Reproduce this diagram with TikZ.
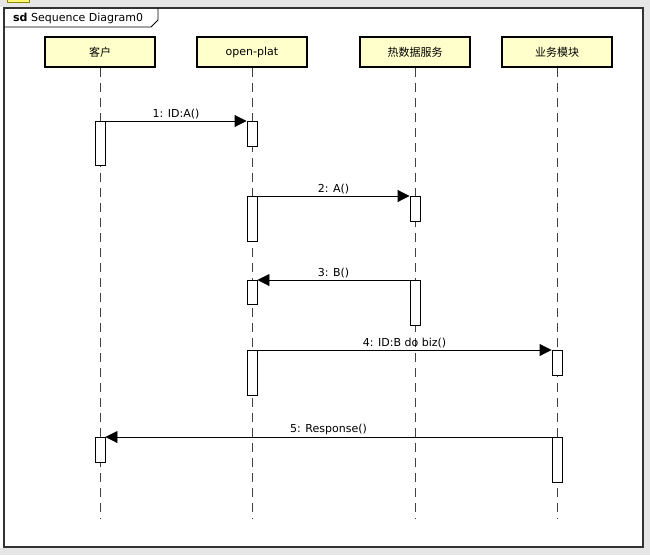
\documentclass[tikz,border=0pt]{standalone}
\usepackage{fontspec}
\setmainfont{DejaVu Sans}
\newfontfamily\cjk{Noto Sans CJK SC}
\usetikzlibrary{arrows.meta}
\definecolor{headfill}{HTML}{FFFFCC}
\definecolor{bandgray}{HTML}{E6E6E6}
\tikzset{
  head/.style={draw,line width=1.6pt,fill=headfill,minimum width=110pt,minimum height=30pt,
    inner sep=0pt,font=\fontsize{11}{13}\selectfont},
  lifeline/.style={draw=black!75,line width=0.9pt,dash pattern=on 9pt off 6pt},
  act/.style={draw,line width=0.9pt,fill=white,anchor=north,minimum width=10pt,inner sep=0pt},
  msg/.style={line width=0.9pt,-{Triangle[length=12pt,width=12pt]}},
  lbl/.style={above,inner sep=2pt,font=\fontsize{11}{13}\selectfont}
}
\begin{document}
\begin{tikzpicture}[x=1pt,y=-1pt]
  \useasboundingbox (0,0) rectangle (650,555);
  % window background
  \fill[bandgray] (0,0) rectangle (650,555);
  \fill[white] (0,7) rectangle (643,548);
  \draw[draw=olive,fill=yellow!55] (7,-1) rectangle (29,2);
  % frame
  \draw[line width=1.2pt,black!80] (4,8) rectangle (643,547);
  \draw[line width=0.8pt] (4,27) -- (151,27) -- (158,20) -- (158,8);
  \node[anchor=west,inner sep=0pt,font=\fontsize{11}{13}\selectfont] (title) at (13,18) {\textbf{sd} Sequence Diagram0};

  % lifelines
  \node[head] (client) at (100,52) {\cjk 客户};
  \node[head] (plat) at (252,52) {open-plat};
  \node[head] (hot) at (415,52) {\cjk 热数据服务};
  \node[head] (biz) at (557,52) {\cjk 业务模块};
  \coordinate (end) at (0,519);
  \foreach \n in {client,plat,hot,biz}
    \draw[lifeline] (\n.south) -- (\n.south |- end);

  % activations
  \node[act,minimum height=44pt] (client1) at (100,121) {};
  \node[act,minimum height=25pt] (client2) at (100,437) {};
  \node[act,minimum height=25pt] (plat1) at (252,121) {};
  \node[act,minimum height=45pt] (plat2) at (252,196) {};
  \node[act,minimum height=24pt] (plat3) at (252,280) {};
  \node[act,minimum height=45pt] (plat4) at (252,350) {};
  \node[act,minimum height=25pt] (hot1) at (415,196) {};
  \node[act,minimum height=45pt] (hot2) at (415,280) {};
  \node[act,minimum height=25pt] (biz1) at (557,350) {};
  \node[act,minimum height=45pt] (biz2) at (557,437) {};

  % messages
  \draw[msg] (client1.north east) -- node[lbl] (m1) {1: ID:A()} (plat1.north west);
  \draw[msg] (plat2.north east) -- node[lbl] (m2) {2: A()} (hot1.north west);
  \draw[msg] (hot2.north west) -- node[lbl] (m3) {3: B()} (plat3.north east);
  \draw[msg] (plat4.north east) -- node[lbl] (m4) {4: ID:B do biz()} (biz1.north west);
  \draw[msg] (biz2.north west) -- node[lbl] (m5) {5: Response()} (client2.north east);
\end{tikzpicture}
\end{document}
